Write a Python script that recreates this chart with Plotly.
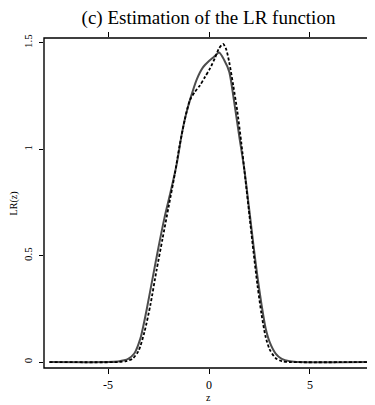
import plotly.graph_objects as go

# Solid curve (estimate 1)
x_solid = [-7.9, -5.0, -4.5, -4.2, -4.0, -3.7, -3.4, -3.1, -2.8, -2.5, -2.2, -1.9,
           -1.6, -1.35, -1.15, -0.9, -0.6, -0.3, 0.0, 0.25, 0.5, 0.75, 1.0, 1.25,
           1.5, 1.75, 2.0, 2.2, 2.4, 2.6, 2.8, 3.0, 3.3, 3.6, 4.0, 4.5, 7.9]
y_solid = [0.0, 0.0, 0.003, 0.008, 0.015, 0.04, 0.11, 0.24, 0.39, 0.54, 0.68, 0.80,
           0.93, 1.07, 1.16, 1.245, 1.33, 1.385, 1.415, 1.435, 1.455, 1.42, 1.365, 1.22,
           1.06, 0.905, 0.71, 0.55, 0.40, 0.27, 0.16, 0.095, 0.04, 0.015, 0.004, 0.0, 0.0]

# Dotted curve (estimate 2)
x_dash = [-7.9, -4.5, -4.1, -3.8, -3.5, -3.2, -2.9, -2.6, -2.3, -2.0, -1.7, -1.45,
          -1.2, -0.95, -0.7, -0.45, -0.2, 0.05, 0.3, 0.5, 0.7, 0.85, 1.0, 1.2,
          1.4, 1.6, 1.8, 2.0, 2.2, 2.4, 2.6, 2.8, 3.0, 3.3, 3.6, 4.0, 7.9]
y_dash = [0.0, 0.0, 0.004, 0.015, 0.05, 0.14, 0.27, 0.43, 0.58, 0.73, 0.88, 1.02,
          1.14, 1.23, 1.27, 1.30, 1.34, 1.38, 1.43, 1.475, 1.495, 1.47, 1.41, 1.30,
          1.18, 1.03, 0.86, 0.69, 0.52, 0.36, 0.225, 0.12, 0.06, 0.018, 0.004, 0.0, 0.0]

x_ticks = [-5, 0, 5]
y_ticks = [0, 0.5, 1, 1.5]
y_tick_labels = ["0", "0.5", "1", "1.5"]

font_family = "Liberation Serif"

fig = go.Figure()
fig.add_trace(go.Scatter(x=x_solid, y=y_solid, mode="lines",
                         line=dict(color="#4d4d4d", width=2, shape="spline", smoothing=0.7),
                         showlegend=False, hoverinfo="skip"))
fig.add_trace(go.Scatter(x=x_dash, y=y_dash, mode="lines",
                         line=dict(color="#000000", width=1.8, dash="3px,2px",
                                   shape="spline", smoothing=0.7),
                         showlegend=False, hoverinfo="skip"))

# page body has an 8px default margin: figure is sized/offset to compensate
fig.update_layout(
    width=367, height=397,
    margin=dict(l=36, r=2, t=30, b=37, autoexpand=False),
    paper_bgcolor="white", plot_bgcolor="white",
    font=dict(family=font_family, color="black"),
    title=dict(text="(c) Estimation of the LR function", xref="paper", x=0.5,
               xanchor="center", yref="container", y=0.977, yanchor="middle",
               font=dict(size=19, family=font_family)),
    xaxis=dict(range=[-8.17, 8.12], tickvals=x_ticks, ticktext=[str(v) for v in x_ticks],
               ticks="outside", ticklen=5, tickcolor="black", tickwidth=1,
               showline=False, mirror="ticks",
               showgrid=False, zeroline=False, automargin=False,
               ticklabelstandoff=1,
               tickfont=dict(size=12, family=font_family)),
    yaxis=dict(range=[-0.028, 1.523], tickvals=y_ticks, ticktext=y_tick_labels,
               ticks="outside", ticklen=4, tickcolor="black", tickwidth=1,
               showline=False, mirror="ticks",
               showgrid=False, zeroline=False, tickangle=-90, automargin=False,
               ticklabelstandoff=3,
               tickfont=dict(size=11, family=font_family)),
    shapes=[dict(type="rect", xref="paper", yref="paper", x0=0, x1=1, y0=0, y1=1,
                 line=dict(color="#000000", width=1.4), fillcolor="rgba(0,0,0,0)",
                 layer="above")],
    annotations=[
        dict(text="z", xref="paper", x=0.5, yref="paper", y=-0.088,
             xanchor="center", yanchor="middle", showarrow=False,
             font=dict(size=10, family=font_family)),
        dict(text="LR(z)", xref="paper", x=-0.09, yref="paper", y=0.5,
             xanchor="center", yanchor="middle", showarrow=False, textangle=-90,
             font=dict(size=10, family=font_family)),
    ],
)

fig.write_html("out.html")
